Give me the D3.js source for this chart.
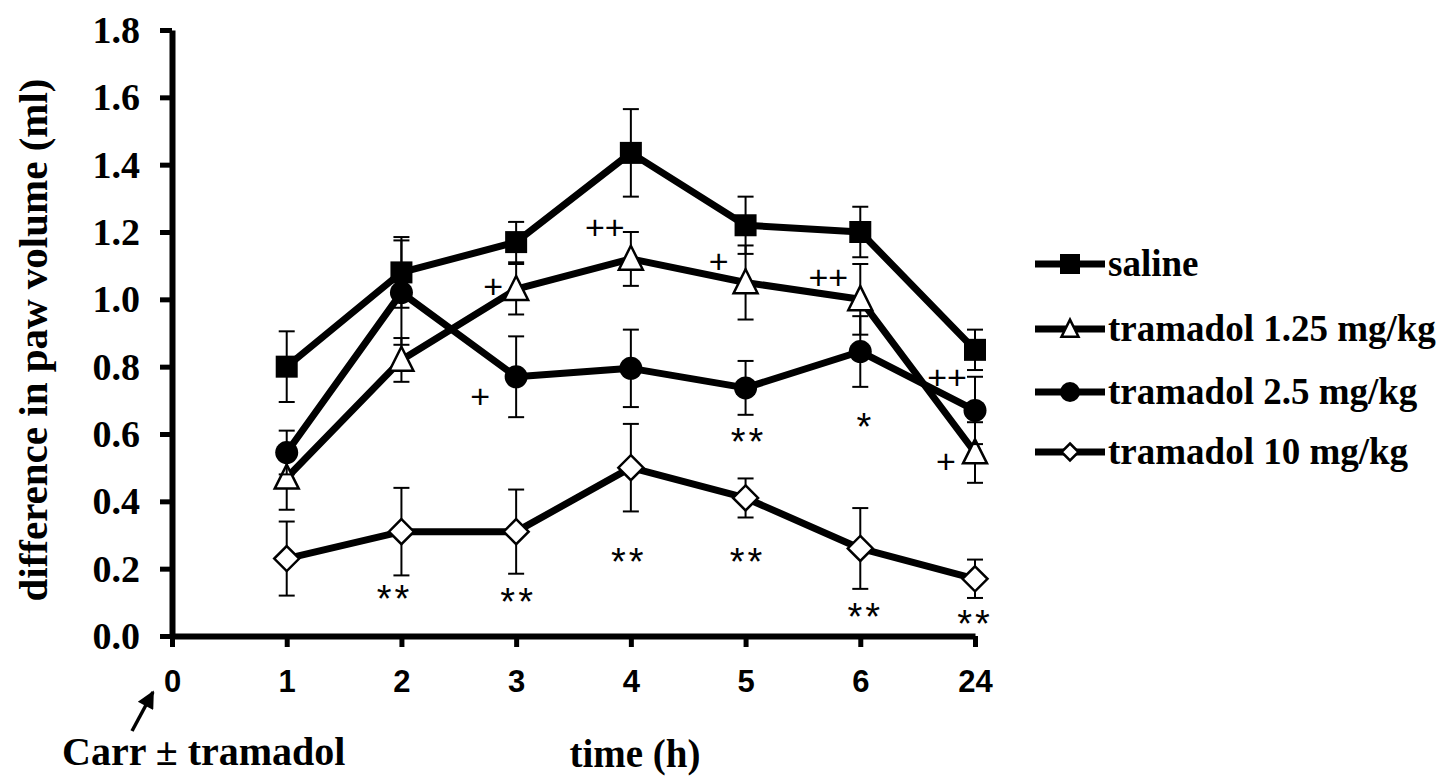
<!DOCTYPE html>
<html>
<head>
<meta charset="utf-8">
<script src="https://cdn.jsdelivr.net/npm/d3@7"></script>
<style>
  body { margin: 0; background: #fff; }
  svg { display: block; }
</style>
</head>
<body>
<div id="vis1"></div>
<script>
// ----------DATA----------------
const TIME_LABELS = ["0", "1", "2", "3", "4", "5", "6", "24"];
const SERIES_NAMES = ["saline", "tramadol 1.25 mg/kg", "tramadol 2.5 mg/kg", "tramadol 10 mg/kg"];
const SERIES_SHAPES = ["square", "triangle", "circle", "diamond"];

// values at time index 1..7 (1, 2, 3, 4, 5, 6, 24 h)
const SALINE      = [0.80, 1.08, 1.17, 1.435, 1.22, 1.20, 0.85];
const SALINE_ERR  = [0.105, 0.105, 0.06, 0.13, 0.085, 0.075, 0.06];
const TRAM125     = [0.47, 0.82, 1.03, 1.12, 1.05, 1.00, 0.545];
const TRAM125_ERR = [0.095, 0.065, 0.075, 0.08, 0.11, 0.105, 0.09];
const TRAM25      = [0.545, 1.02, 0.77, 0.795, 0.737, 0.845, 0.67];
const TRAM25_ERR  = [0.065, 0.155, 0.12, 0.115, 0.08, 0.105, 0.10];
const TRAM10      = [0.23, 0.31, 0.31, 0.50, 0.41, 0.26, 0.17];
const TRAM10_ERR  = [0.11, 0.13, 0.125, 0.13, 0.058, 0.12, 0.057];

const Y_TICKS = [0, 0.2, 0.4, 0.6, 0.8, 1.0, 1.2, 1.4, 1.6, 1.8];

// significance marks: text, time index, value level, x nudge
const MARK_TEXT  = ["++", "+", "++", "++", "+", "+", "+", "**", "*", "**", "**", "**", "**", "**", "**"];
const MARK_INDEX = [4, 5, 6, 7, 7, 3, 3, 5, 6, 2, 3, 4, 5, 6, 7];
const MARK_LEVEL = [1.212, 1.111, 1.064, 0.767, 0.517, 1.037, 0.71, 0.603, 0.648, 0.137, 0.128, 0.247, 0.247, 0.083, 0.062];
const MARK_DX    = [-26, -27, -32, -28, -29, -23, -36, 3, 5, -7, 2, -2, 2, 5, 0];

// ----------CONSTANTS FOR PAGE SETUP----------------
const FRAME_WIDTH = 1450;
const FRAME_HEIGHT = 780;
const X0 = 172, X1 = 975;
const Y0 = 636, Y1 = 30;
const SERIF = "'Liberation Serif', 'Times New Roman', serif";
const SANS = "'Liberation Sans', Arial, sans-serif";

const series = [
  { values: SALINE, err: SALINE_ERR },
  { values: TRAM125, err: TRAM125_ERR },
  { values: TRAM25, err: TRAM25_ERR },
  { values: TRAM10, err: TRAM10_ERR }
].map((s, k) => ({
  name: SERIES_NAMES[k],
  shape: SERIES_SHAPES[k],
  points: s.values.map((v, i) => ({ i: i + 1, v: v, e: s.err[i] }))
}));

const FRAME1 = d3.select("#vis1")
  .append("svg")
  .attr("width", FRAME_WIDTH)
  .attr("height", FRAME_HEIGHT);

FRAME1.append("rect")
  .attr("width", FRAME_WIDTH)
  .attr("height", FRAME_HEIGHT)
  .attr("fill", "#fff");

const x = d3.scaleLinear().domain([0, 7]).range([X0, X1]);
const y = d3.scaleLinear().domain([0, 1.8]).range([Y0, Y1]);

// marker drawing
function drawMarker(g, shape, cx, cy, size) {
  if (shape === "square") {
    g.append("rect")
      .attr("x", cx - size / 2).attr("y", cy - size / 2)
      .attr("width", size).attr("height", size)
      .attr("fill", "#000");
  } else if (shape === "circle") {
    g.append("circle")
      .attr("cx", cx).attr("cy", cy).attr("r", size / 2)
      .attr("fill", "#000");
  } else if (shape === "triangle") {
    const h = size;
    g.append("path")
      .attr("d", `M${cx},${cy - h * 0.55} L${cx + size / 2},${cy + h * 0.45} L${cx - size / 2},${cy + h * 0.45} Z`)
      .attr("fill", "#fff").attr("stroke", "#000").attr("stroke-width", 2.5)
      .attr("stroke-linejoin", "miter");
  } else {
    const r = size / 2;
    g.append("path")
      .attr("d", `M${cx},${cy - r} L${cx + r},${cy} L${cx},${cy + r} L${cx - r},${cy} Z`)
      .attr("fill", "#fff").attr("stroke", "#000").attr("stroke-width", 2.5);
  }
}

const MARK_SIZE = { square: 22, circle: 23, triangle: 24, diamond: 25 };
const LEG_SIZE = { square: 20, circle: 20, triangle: 17, diamond: 17 };

// ---------AXES-------------
const yAxis = d3.axisLeft(y).tickValues(Y_TICKS).tickSize(12).tickSizeOuter(0)
  .tickFormat(d3.format(".1f"));
const yG = FRAME1.append("g").attr("transform", `translate(${X0},0)`).call(yAxis);
yG.select(".domain").attr("stroke", "#000").attr("stroke-width", 6);
yG.selectAll(".tick line").attr("stroke", "#000").attr("stroke-width", 5);
yG.selectAll(".tick text")
  .attr("x", -32)
  .attr("dy", "0.33em")
  .style("font-family", SERIF).style("font-weight", "bold").style("font-size", "38px")
  .attr("fill", "#000");

const xAxis = d3.axisBottom(x).ticks(8).tickValues(d3.range(8)).tickSize(11).tickSizeOuter(0)
  .tickFormat(i => TIME_LABELS[i]);
const xG = FRAME1.append("g").attr("transform", `translate(0,${Y0})`).call(xAxis);
xG.select(".domain").attr("stroke", "#000").attr("stroke-width", 6);
xG.selectAll(".tick line").attr("stroke", "#000").attr("stroke-width", 5);
xG.selectAll(".tick text")
  .attr("y", 56).attr("dy", 0)
  .style("font-family", SANS).style("font-weight", "bold").style("font-size", "31px")
  .attr("fill", "#000");

// axis titles
FRAME1.append("text")
  .attr("transform", `translate(47,${(Y0 + Y1) / 2 + 7}) rotate(-90)`)
  .attr("text-anchor", "middle")
  .style("font-family", SERIF).style("font-weight", "bold").style("font-size", "41px")
  .text("difference in paw volume (ml)");

FRAME1.append("text")
  .attr("x", 635).attr("y", 767)
  .attr("text-anchor", "middle")
  .style("font-family", SERIF).style("font-weight", "bold").style("font-size", "39px")
  .text("time (h)");

FRAME1.append("text")
  .attr("x", 62).attr("y", 765)
  .style("font-family", SERIF).style("font-weight", "bold").style("font-size", "40px")
  .text("Carr \u00b1 tramadol");

// arrow pointing at time 0
FRAME1.append("defs").append("marker")
  .attr("id", "arrowhead")
  .attr("viewBox", "0 0 10 10")
  .attr("refX", 9).attr("refY", 5)
  .attr("markerWidth", 5.5).attr("markerHeight", 5)
  .attr("markerUnits", "strokeWidth")
  .attr("orient", "auto")
  .append("path").attr("d", "M0,0 L10,5 L0,10 Z").attr("fill", "#000");

FRAME1.append("line")
  .attr("x1", x(0) - 40).attr("y1", 731)
  .attr("x2", x(0) - 19).attr("y2", 692)
  .attr("stroke", "#000").attr("stroke-width", 3.5)
  .attr("marker-end", "url(#arrowhead)");

// ---------SERIES-------------
const line = d3.line().x(d => x(d.i)).y(d => y(d.v));

series.forEach(s => {
  const g = FRAME1.append("g");
  g.append("path")
    .datum(s.points)
    .attr("d", line)
    .attr("fill", "none")
    .attr("stroke", "#000")
    .attr("stroke-width", 7)
    .attr("stroke-linejoin", "round");

  const eb = g.selectAll(".err").data(s.points).enter().append("g");
  eb.append("line")
    .attr("x1", d => x(d.i)).attr("x2", d => x(d.i))
    .attr("y1", d => y(d.v - d.e)).attr("y2", d => y(d.v + d.e))
    .attr("stroke", "#000").attr("stroke-width", 2);
  [1, -1].forEach(sign => {
    eb.append("line")
      .attr("x1", d => x(d.i) - 8).attr("x2", d => x(d.i) + 8)
      .attr("y1", d => y(d.v + sign * d.e)).attr("y2", d => y(d.v + sign * d.e))
      .attr("stroke", "#000").attr("stroke-width", 2);
  });

  s.points.forEach(d => drawMarker(g, s.shape, x(d.i), y(d.v), MARK_SIZE[s.shape]));
});

// ---------SIGNIFICANCE MARKS-------------
MARK_TEXT.forEach((t, k) => {
  const isStar = t.indexOf("*") >= 0;
  const fs = isStar ? 38 : 34;
  FRAME1.append("text")
    .attr("x", x(MARK_INDEX[k]) + MARK_DX[k])
    .attr("y", y(MARK_LEVEL[k]) + (isStar ? 0.58 : 0.33) * fs)
    .attr("text-anchor", "middle")
    .style("font-family", SANS)
    .style("font-size", fs + "px")
    .style("letter-spacing", isStar ? "3px" : "0px")
    .text(t);
});

// ---------LEGEND-------------
const LEG_ROWS = [264, 329, 392, 452];
series.forEach((s, k) => {
  const g = FRAME1.append("g");
  const cy = LEG_ROWS[k];
  g.append("line")
    .attr("x1", 1035).attr("x2", 1105)
    .attr("y1", cy).attr("y2", cy)
    .attr("stroke", "#000").attr("stroke-width", 7);
  drawMarker(g, s.shape, 1070, cy, LEG_SIZE[s.shape]);
  g.append("text")
    .attr("x", 1108).attr("y", cy + 12)
    .style("font-family", SERIF).style("font-weight", "bold").style("font-size", "37px")
    .text(s.name);
});
</script>
</body>
</html>
